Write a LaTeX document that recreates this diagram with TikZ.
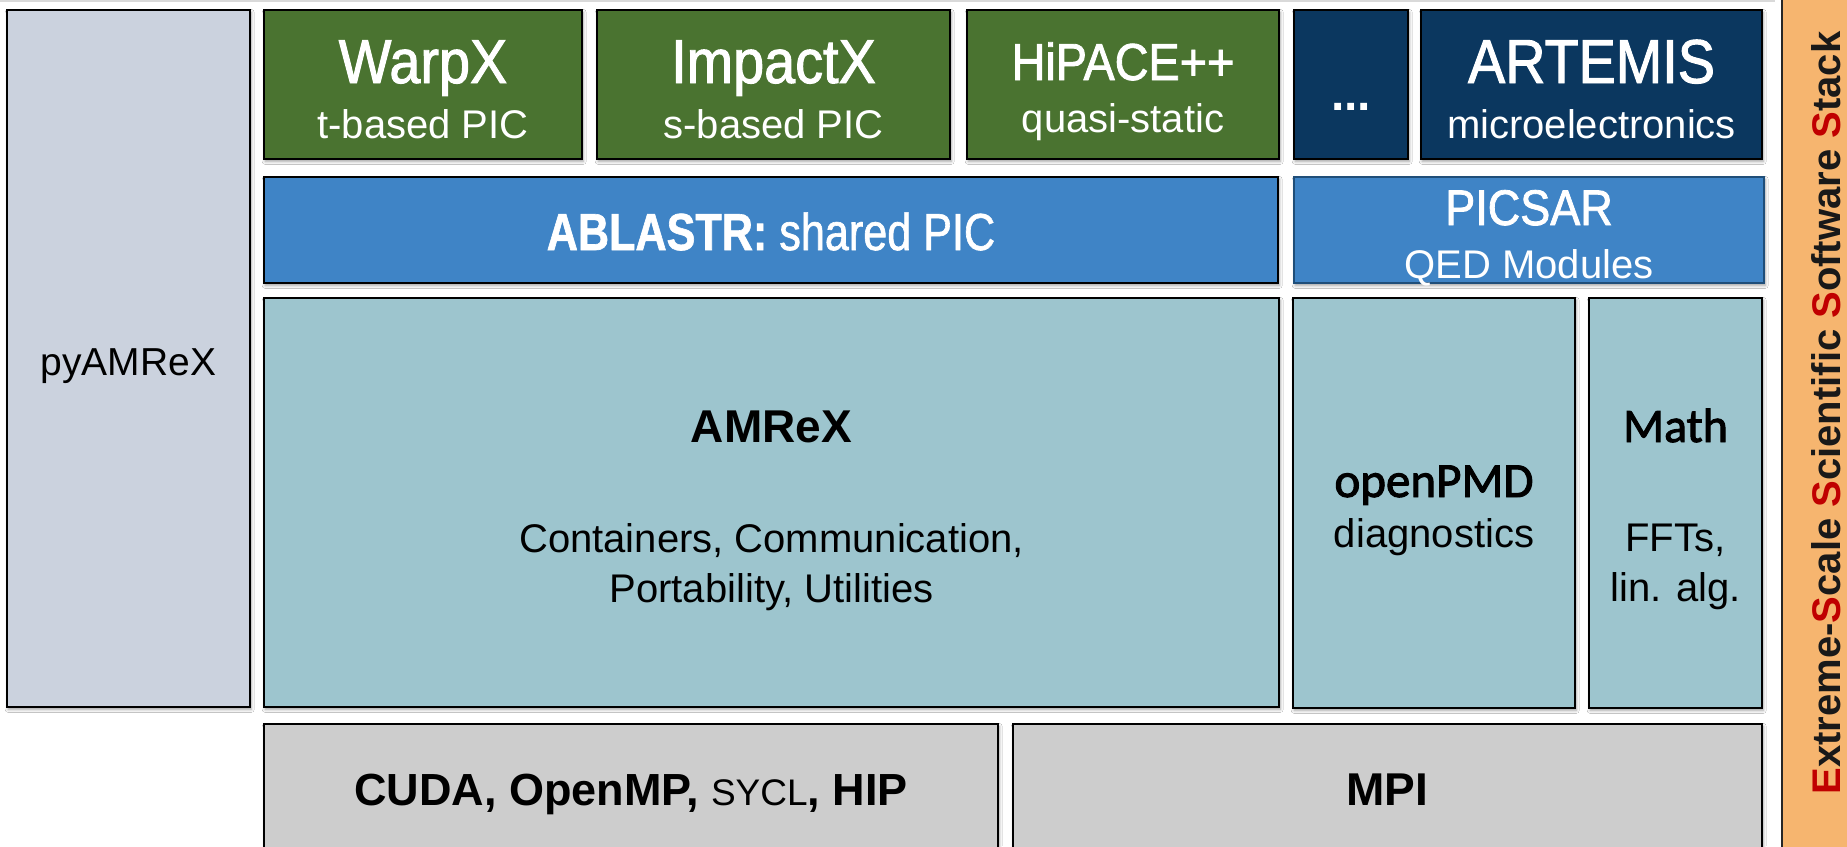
\documentclass[tikz,border=0pt]{standalone}
\usepackage{fontspec}
\setmainfont{Liberation Sans}
\newfontfamily\tfont[FakeStretch=0.9,FakeBold=1.6]{Liberation Sans}
\newfontfamily\nfont[FakeStretch=0.83,FakeBold=1.2]{Liberation Sans}
\newfontfamily\cfont[FakeBold=2]{Carlito}
\usetikzlibrary{fit,shadows.blur}
\definecolor{pyc}{HTML}{CBD2DE}
\definecolor{grn}{HTML}{4A7330}
\definecolor{navy}{HTML}{0B375F}
\definecolor{blu}{HTML}{3F84C6}
\definecolor{bluedge}{HTML}{1F4E79}
\definecolor{teal}{HTML}{9DC5CE}
\definecolor{gry}{HTML}{CDCDCD}
\definecolor{orc}{HTML}{F6B56F}
\definecolor{redc}{HTML}{C00000}
\newcommand{\fsz}[1]{\fontsize{#1}{#1}\selectfont}
\begin{document}
\begin{tikzpicture}[x=0.5pt,y=-0.5pt,
  box/.style={draw=black, line width=1pt, inner sep=0pt, outer sep=0pt,
    blur shadow={shadow xshift=0.6pt, shadow yshift=-1.2pt, shadow blur radius=1.5pt, shadow opacity=40}},
  wt/.style={anchor=base, text=white, inner sep=0pt},
  bt/.style={anchor=base, text=black, inner sep=0pt},
  title/.style={font=\tfont\fsz{31}},
  sub/.style={font=\fsz{20}},
  body/.style={font=\fsz{20}}]
\useasboundingbox (0,0) rectangle (1847,846);
\clip (0,0) rectangle (1847,846);
\fill[white] (0,0) rectangle (1847,846);
\draw[black!15, line width=1pt] (0,1) -- (1775,1);

% left column
\node[box, fill=pyc, fit={(7,10) (250,707)}] (pyamrex) {};
\node[bt, font=\fsz{19.5}] (pyamrexT) at (128.5,375) {pyAMReX};

% top row
\node[box, fill=grn, fit={(264,10) (582,159)}] (warpx) {};
\node[wt, title] (warpxT) at (423,83) {WarpX};
\node[wt, sub] (warpxS) at (423,138) {t-based PIC};

\node[box, fill=grn, fit={(597,10) (950,159)}] (impactx) {};
\node[wt, title] (impactxT) at (773.5,83) {ImpactX};
\node[wt, sub] (impactxS) at (773.5,138) {s-based PIC};

\node[box, fill=grn, fit={(967,10) (1279,159)}] (hipace) {};
\node[wt, font=\tfont\fsz{26}] (hipaceT) at (1123,80) {HiPACE++};
\node[wt, sub] (hipaceS) at (1123,132) {quasi-static};

\node[box, fill=navy, fit={(1294,10) (1408,159)}] (more) {};
\node[wt, font=\fsz{24}\bfseries] (moreT) at (1351,110) {...};

\node[box, fill=navy, fit={(1421,10) (1762,159)}] (artemis) {};
\node[wt, title] (artemisT) at (1591.5,83) {ARTEMIS};
\node[wt, sub] (artemisS) at (1591.5,138) {microelectronics};

% second row
\node[box, fill=blu, fit={(264,177) (1278,283)}] (ablastr) {};
\node[wt, font=\nfont\fsz{26}] (ablastrT) at (771,250) {\textbf{ABLASTR:} shared PIC};

\node[box, draw=bluedge, fill=blu, fit={(1294,177) (1764,283)}] (picsar) {};
\node[wt, font=\tfont\fsz{25}] (picsarT) at (1529,225) {PICSAR};
\node[wt, sub] (picsarS) at (1529,278) {QED Modules};

% third row
\node[box, fill=teal, fit={(264,298) (1279,707)}] (amrex) {};
\node[bt, font=\bfseries\fsz{23}] (amrexT) at (771.5,442) {AMReX};
\node[bt, body] (amrexS1) at (771.5,552) {Containers, Communication,};
\node[bt, body] (amrexS2) at (771.5,602) {Portability, Utilities};

\node[box, fill=teal, fit={(1293,298) (1575,708)}] (openpmd) {};
\node[bt, font=\cfont\fsz{24.5}] (openpmdT) at (1434,497) {openPMD};
\node[bt, body] (openpmdS) at (1434,547) {diagnostics};

\node[box, fill=teal, fit={(1589,298) (1762,708)}] (math) {};
\node[bt, font=\cfont\fsz{24}] (mathT) at (1675.5,442) {Math};
\node[bt, body] (mathS1) at (1675.5,551) {FFTs,};
\node[bt, body] (mathS2) at (1675.5,601) {lin. alg.};

% bottom row
\node[box, fill=gry, fit={(264,724) (998,880)}] (cuda) {};
\node[bt, font=\bfseries\fsz{22.5}] (cudaT) at (631,805) {CUDA, OpenMP, {\mdseries\fsz{18.5}SYCL}, HIP};

\node[box, fill=gry, fit={(1013,724) (1762,880)}] (mpi) {};
\node[bt, font=\bfseries\fsz{23}] (mpiT) at (1387.5,805) {MPI};

% side stripe
\node[draw=black!85, line width=1pt, fill=orc, inner sep=0pt, fit={(1782,-10) (1870,860)}] (stripe) {};
\node[rotate=90, anchor=base, inner sep=0pt, text=black!90, font=\bfseries\fsz{20}] (esss) at (1840,413)
  {\textcolor{redc}{E}xtreme-\textcolor{redc}{S}cale \textcolor{redc}{S}cientific \textcolor{redc}{S}oftware \textcolor{redc}{S}tack};
\end{tikzpicture}
\end{document}
